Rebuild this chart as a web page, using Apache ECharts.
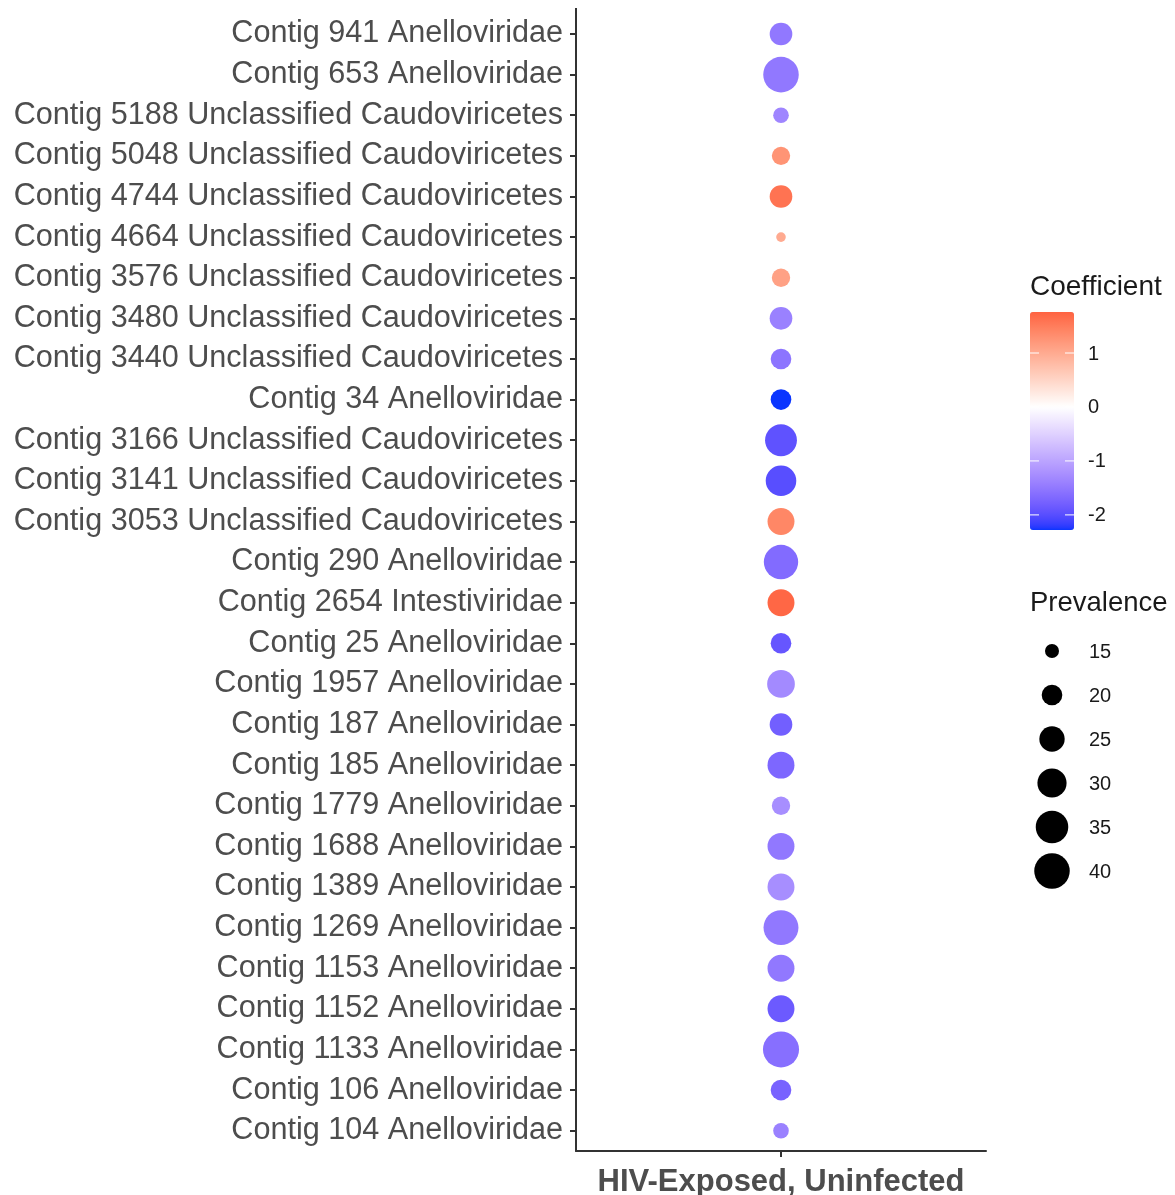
<!DOCTYPE html>
<html>
<head>
<meta charset="utf-8">
<script src="https://cdn.jsdelivr.net/npm/echarts@6/dist/echarts.min.js"></script>
<style>html,body{margin:0;padding:0;background:#fff}#c{width:1175px;height:1195px}</style>
</head>
<body>
<div id="c"></div>
<script>
const categories = [
  'Contig 941 Anelloviridae','Contig 653 Anelloviridae',
  'Contig 5188 Unclassified Caudoviricetes','Contig 5048 Unclassified Caudoviricetes',
  'Contig 4744 Unclassified Caudoviricetes','Contig 4664 Unclassified Caudoviricetes',
  'Contig 3576 Unclassified Caudoviricetes','Contig 3480 Unclassified Caudoviricetes',
  'Contig 3440 Unclassified Caudoviricetes','Contig 34 Anelloviridae',
  'Contig 3166 Unclassified Caudoviricetes','Contig 3141 Unclassified Caudoviricetes',
  'Contig 3053 Unclassified Caudoviricetes','Contig 290 Anelloviridae',
  'Contig 2654 Intestiviridae','Contig 25 Anelloviridae','Contig 1957 Anelloviridae',
  'Contig 187 Anelloviridae','Contig 185 Anelloviridae','Contig 1779 Anelloviridae',
  'Contig 1688 Anelloviridae','Contig 1389 Anelloviridae','Contig 1269 Anelloviridae',
  'Contig 1153 Anelloviridae','Contig 1152 Anelloviridae','Contig 1133 Anelloviridae',
  'Contig 106 Anelloviridae','Contig 104 Anelloviridae'
];
const coefficient = [
  -1.5, -1.5, -1.35, 1.25, 1.6, 1.0, 1.1, -1.4, -1.55, -2.28,
  -1.95, -2.0, 1.4, -1.65, 1.72, -1.9, -1.3, -1.8, -1.7, -1.25,
  -1.5, -1.25, -1.5, -1.5, -1.85, -1.6, -1.75, -1.4
];
const prevalence = [
  22, 40, 16, 18, 22, 13, 18, 22, 20, 20,
  34, 32, 27, 38, 27, 20, 28, 22, 27, 18,
  27, 27, 39, 27, 27, 41, 20, 16
];
const groupLabel = 'HIV-Exposed, Uninfected';
const coefTicks = [1, 0, -1, -2];
const prevTicks = [15, 20, 25, 30, 35, 40];
const coefMin = -2.28, coefMax = 1.76;

// ---- style helpers ----
const FONT = 'Liberation Sans, Arial, Helvetica, sans-serif';
function sizeFn(v){ return 3.55 + 6.04*Math.sqrt(Math.max(v-12,0)); }

// Lab interpolation (like ggplot scale_colour_gradient2)
function rgb2lab(hex){
  let r=parseInt(hex.slice(1,3),16)/255,g=parseInt(hex.slice(3,5),16)/255,b=parseInt(hex.slice(5,7),16)/255;
  const lin=c=>c>0.04045?Math.pow((c+0.055)/1.055,2.4):c/12.92;
  r=lin(r);g=lin(g);b=lin(b);
  let x=(r*0.4124+g*0.3576+b*0.1805)/0.95047,y=(r*0.2126+g*0.7152+b*0.0722),z=(r*0.0193+g*0.1192+b*0.9505)/1.08883;
  const f=t=>t>0.008856?Math.cbrt(t):7.787*t+16/116;
  x=f(x);y=f(y);z=f(z);
  return [116*y-16,500*(x-y),200*(y-z)];
}
function lab2hex(L,a,b){
  let y=(L+16)/116,x=a/500+y,z=y-b/200;
  const f=t=>t*t*t>0.008856?t*t*t:(t-16/116)/7.787;
  x=0.95047*f(x);y=f(y);z=1.08883*f(z);
  let r=x*3.2406+y*-1.5372+z*-0.4986,g=x*-0.9689+y*1.8758+z*0.0415,bb=x*0.0557+y*-0.2040+z*1.0570;
  const gm=c=>{c=c>0.0031308?1.055*Math.pow(c,1/2.4)-0.055:12.92*c;c=Math.max(0,Math.min(1,c));return Math.round(c*255).toString(16).padStart(2,'0');};
  return '#'+gm(r)+gm(g)+gm(bb);
}
const LOW=rgb2lab('#0A35FF'),MID=rgb2lab('#FFFFFF'),HIGH=rgb2lab('#FF0000');
const lim=Math.max(Math.abs(coefMin),Math.abs(coefMax));
function colorAt(v){
  const t=v/lim; const end=t<0?LOW:HIGH; const s=Math.min(1,Math.abs(t));
  return lab2hex(MID[0]+(end[0]-MID[0])*s,MID[1]+(end[1]-MID[1])*s,MID[2]+(end[2]-MID[2])*s);
}
const stops=[];
for(let i=0;i<=100;i++){ stops.push(colorAt(coefMin+(coefMax-coefMin)*i/100)); }

const data = categories.map((c,i)=>[groupLabel, c, coefficient[i], prevalence[i]]);

// legend geometry
const barLeft=1030, barTop=312, barW=44, barH=218;
const graphics=[];
graphics.push({type:'text',left:1030,top:273,style:{text:'Coefficient',font:'28px '+FONT,fill:'#1a1a1a'}});
coefTicks.forEach(v=>{
  const y=barTop+(coefMax-v)/(coefMax-coefMin)*barH;
  graphics.push({type:'line',shape:{x1:barLeft,y1:y,x2:barLeft+9,y2:y},style:{stroke:'#fff',lineWidth:1},z:100});
  graphics.push({type:'line',shape:{x1:barLeft+barW-9,y1:y,x2:barLeft+barW,y2:y},style:{stroke:'#fff',lineWidth:1},z:100});
  graphics.push({type:'text',x:1088,y:y+1,style:{text:String(v),font:'20px '+FONT,fill:'#1a1a1a',verticalAlign:'middle',align:'left'}});
});
graphics.push({type:'text',left:1030,top:589,style:{text:'Prevalence',font:'27.5px '+FONT,fill:'#1a1a1a'}});
prevTicks.forEach((v,i)=>{
  const y=651+i*44;
  graphics.push({type:'circle',shape:{cx:1052,cy:y,r:sizeFn(v)/2},style:{fill:'#000'}});
  graphics.push({type:'text',x:1089,y:y+1,style:{text:String(v),font:'20px '+FONT,fill:'#1a1a1a',verticalAlign:'middle',align:'left'}});
});
// y-axis line extension to top (ggplot discrete expansion)
graphics.push({type:'line',shape:{x1:576,y1:8,x2:576,y2:14},style:{stroke:'#333',lineWidth:2}});

const chart = echarts.init(document.getElementById('c'), null, {renderer:'canvas'});
chart.setOption({
  animation:false,
  backgroundColor:'#fff',
  grid:{left:576,right:189,top:13.7,bottom:44,containLabel:false,outerBoundsMode:'none'},
  xAxis:{type:'category',data:[groupLabel],
    axisLine:{lineStyle:{color:'#333',width:2}},
    axisTick:{show:true,alignWithLabel:true,length:6,lineStyle:{color:'#333',width:2}},
    axisLabel:{color:'#4d4d4d',fontSize:31,fontWeight:'bold',fontFamily:FONT,margin:16},
    splitLine:{show:false}},
  yAxis:{type:'category',data:categories,inverse:true,
    axisLine:{lineStyle:{color:'#333',width:2}},
    axisTick:{show:true,alignWithLabel:true,length:6,lineStyle:{color:'#333',width:2}},
    axisLabel:{color:'#4d4d4d',fontSize:30.6,fontFamily:FONT,margin:13,padding:[9,0,0,0]},
    splitLine:{show:false}},
  visualMap:{type:'continuous',min:coefMin,max:coefMax,dimension:2,seriesIndex:0,
    orient:'vertical',left:barLeft,top:barTop,itemWidth:barW,itemHeight:barH,padding:0,
    text:null,showLabel:false,calculable:false,hoverLink:false,realtime:false,
    inRange:{color:stops}},
  series:[{type:'scatter',data:data,encode:{x:0,y:1},
    symbol:'circle',symbolSize:(val)=>sizeFn(val[3]),
    itemStyle:{opacity:1}}],
  graphic:graphics
});
</script>
</body>
</html>
